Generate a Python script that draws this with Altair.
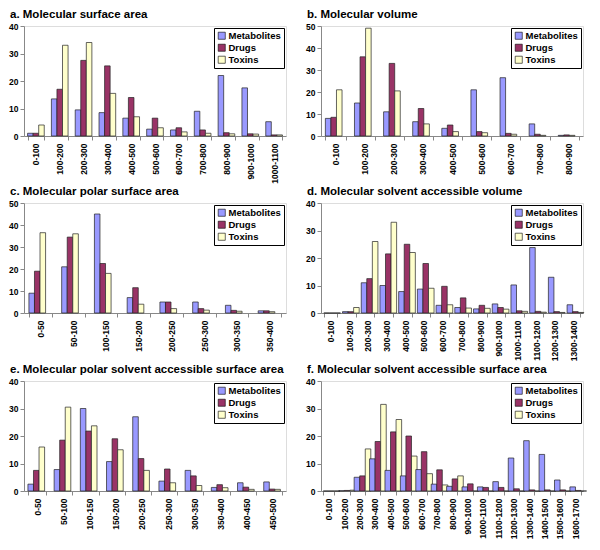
import altair as alt
import pandas as pd

series = ["Metabolites", "Drugs", "Toxins"]
colors = ["#9999FF", "#993366", "#FFFFCC"]

# a. Molecular surface area
a_cats = ["0-100", "100-200", "200-300", "300-400", "400-500", "500-600",
          "600-700", "700-800", "800-900", "900-1000", "1000-1100"]
a_met = [1, 13.5, 9.5, 8.5, 6.5, 2.5, 2.2, 9, 22, 17.5, 5.2]
a_drg = [1, 17, 27.5, 25.5, 14, 6.5, 3, 2.2, 1.2, 0.8, 0.4]
a_tox = [4, 33, 34, 15.5, 7, 3, 1.5, 1, 0.8, 0.7, 0.4]

# b. Molecular volume
b_cats = ["0-100", "100-200", "200-300", "300-400", "400-500", "500-600",
          "600-700", "700-800", "800-900"]
b_met = [8, 15, 11, 6.5, 3.5, 21, 26.5, 5.5, 0.3]
b_drg = [8.5, 36, 33, 12.5, 5, 2, 1.2, 0.8, 0.5]
b_tox = [21, 49, 20.5, 5.5, 2, 1.5, 0.8, 0.3, 0.3]

# c. Molecular polar surface area
c_cats = ["0-50", "50-100", "100-150", "150-200", "200-250", "250-300",
          "300-350", "350-400"]
c_met = [9, 21, 45, 7, 5, 5, 3.5, 1]
c_drg = [19, 34.5, 22.5, 11.5, 5, 2, 1.2, 1]
c_tox = [36.5, 36, 18, 4, 2, 1.3, 0.8, 0.6]

# d. Molecular solvent accessible volume
d_cats = ["0-100", "100-200", "200-300", "300-400", "400-500", "500-600",
          "600-700", "700-800", "800-900", "900-1000", "1000-1100",
          "1100-1200", "1200-1300", "1300-1400"]
d_met = [0, 0.5, 11, 10, 7.8, 8.7, 2.8, 2, 1.5, 3.3, 10.2, 23.8, 13, 3]
d_drg = [0, 0.5, 12.5, 21.5, 25, 18, 9.7, 5.5, 2.8, 2, 0.8, 0.6, 0.5, 0.5]
d_tox = [0, 2, 26, 33, 22, 9, 3, 1.8, 1.7, 1.4, 0.6, 0.3, 0.2, 0.2]

# e. Molecular polar solvent accessible surface area
e_cats = ["0-50", "50-100", "100-150", "150-200", "200-250", "250-300",
          "300-350", "350-400", "400-450", "450-500"]
e_met = [2.5, 7.8, 30, 10.7, 27, 3.6, 7.5, 1.3, 3, 3.3]
e_drg = [7.5, 18.5, 21.8, 19, 11.8, 8, 5.5, 2.3, 1.4, 0.7]
e_tox = [16, 30.5, 23.7, 15, 7.5, 3, 2, 1.2, 0.6, 0.6]

# f. Molecular solvent accessible surface area
f_cats = ["0-100", "100-200", "200-300", "300-400", "400-500", "500-600",
          "600-700", "700-800", "800-900", "900-1000", "1000-1100",
          "1100-1200", "1200-1300", "1300-1400", "1400-1500", "1500-1600",
          "1600-1700"]
f_met = [0, 0.1, 5, 11.7, 7.5, 5.5, 7.8, 2.5, 1.7, 1.5, 1.5, 3.4, 12, 18.3, 13.3, 4, 1.5]
f_drg = [0, 0.2, 5.5, 18, 21.5, 20, 14.3, 7.7, 4.4, 2.6, 1.3, 1.3, 0.8, 0.4, 0.4, 0.4, 0.2]
f_tox = [0, 0.3, 15.3, 31.5, 26, 12.7, 6.3, 2.2, 5.5, 0, 0, 0, 0, 0, 0, 0, 0]

FONT = "Liberation Sans"
W, H = 262, 110


def panel(title, cats, met, drg, tox, ymax):
    rows = []
    for i, c in enumerate(cats):
        for s, vals in zip(series, (met, drg, tox)):
            rows.append({"bin": c, "series": s, "value": vals[i]})
    df = pd.DataFrame(rows)
    return alt.Chart(df, title=alt.Title(
        title, anchor="start", fontSize=11.5, font=FONT, fontWeight="bold",
        color="#000", offset=2, dx=-14, frame="group")).mark_bar(
        stroke="#222", strokeWidth=0.7).encode(
        x=alt.X("bin:N", sort=cats, title=None,
                scale=alt.Scale(paddingInner=0.3, paddingOuter=0.15),
                axis=alt.Axis(labelAngle=270, labelFont=FONT, labelFontSize=8.5,
                              labelFontWeight="bold", labelColor="#000",
                              domainColor="#888", tickColor="#888",
                              tickBand="extent", tickSize=4, labelPadding=3)),
        xOffset=alt.XOffset("series:N", sort=series),
        y=alt.Y("value:Q", scale=alt.Scale(domain=[0, ymax], nice=False),
                title=None,
                axis=alt.Axis(values=list(range(0, ymax + 1, 10)), grid=False,
                              labelFont=FONT, labelFontSize=8.5,
                              labelFontWeight="bold", labelColor="#000",
                              domainColor="#888", tickColor="#888", tickSize=4)),
        color=alt.Color("series:N",
                        scale=alt.Scale(domain=series, range=colors),
                        legend=alt.Legend(
                            title=None, orient="top-right", offset=2,
                            fillColor="white", strokeColor="#000",
                            padding=3, symbolType="square",
                            symbolStrokeColor="#000", symbolStrokeWidth=0.6,
                            symbolSize=50, labelFont=FONT, labelFontSize=9.5,
                            labelFontWeight="bold", labelColor="#000",
                            rowPadding=1, labelOffset=2)),
    ).properties(width=W, height=H)


pa = panel("a. Molecular surface area", a_cats, a_met, a_drg, a_tox, 40)
pb = panel("b. Molecular volume", b_cats, b_met, b_drg, b_tox, 50)
pc = panel("c. Molecular polar surface area", c_cats, c_met, c_drg, c_tox, 50)
pd_ = panel("d.  Molecular solvent accessible volume", d_cats, d_met, d_drg, d_tox, 40)
pe = panel("e. Molecular polar solvent accessible surface area", e_cats, e_met, e_drg, e_tox, 40)
pf = panel("f. Molecular solvent accessible surface area", f_cats, f_met, f_drg, f_tox, 40)


def row(l, r):
    return alt.hconcat(l, r, spacing=18).resolve_scale(
        color="independent", x="independent", y="independent")


chart = alt.vconcat(row(pa, pb), row(pc, pd_), row(pe, pf), spacing=1).resolve_scale(
    color="independent", x="independent", y="independent"
).properties(padding=0).configure_view(
    stroke=None).configure(background="white")

chart.save("out.html", embed_options={"renderer": "svg", "actions": False})
